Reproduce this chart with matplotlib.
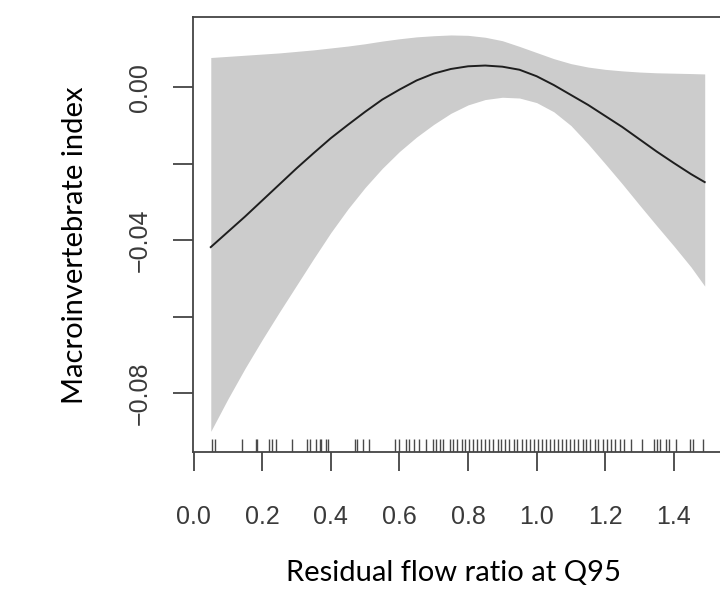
import matplotlib
matplotlib.use("Agg")
import matplotlib.pyplot as plt

# smooth term: fitted value and confidence band along residual flow ratio
flow_ratio = [0.05, 0.10, 0.15, 0.20, 0.25, 0.30, 0.35, 0.40, 0.45, 0.50,
              0.55, 0.60, 0.65, 0.70, 0.75, 0.80, 0.85, 0.90, 0.95, 1.00,
              1.05, 1.10, 1.15, 1.20, 1.25, 1.30, 1.35, 1.40, 1.45, 1.49]
fit = [-0.0418, -0.0378, -0.0338, -0.0296, -0.0254, -0.0212, -0.0172, -0.0133,
       -0.0098, -0.0064, -0.0032, -0.0006, 0.0018, 0.0036, 0.0048, 0.0055,
       0.0057, 0.0054, 0.0046, 0.0029, 0.0006, -0.0020, -0.0046, -0.0075,
       -0.0104, -0.0136, -0.0168, -0.0198, -0.0227, -0.0248]
upper = [0.0078, 0.0081, 0.0084, 0.0087, 0.0090, 0.0094, 0.0098, 0.0103,
         0.0108, 0.0114, 0.0121, 0.0127, 0.0132, 0.0135, 0.0137, 0.0136,
         0.0131, 0.0122, 0.0107, 0.0091, 0.0075, 0.0062, 0.0053, 0.0047,
         0.0043, 0.0040, 0.0038, 0.0037, 0.0036, 0.0035]
lower = [-0.0900, -0.0815, -0.0735, -0.0660, -0.0588, -0.0518, -0.0448, -0.0380,
         -0.0318, -0.0262, -0.0212, -0.0168, -0.0130, -0.0097, -0.0068, -0.0046,
         -0.0032, -0.0026, -0.0028, -0.0040, -0.0064, -0.0100, -0.0148, -0.0200,
         -0.0253, -0.0308, -0.0362, -0.0415, -0.0470, -0.0520]

# observed sites (rug)
sites = [0.054, 0.061, 0.142, 0.181, 0.186, 0.221, 0.229, 0.240, 0.288, 0.330,
         0.338, 0.358, 0.367, 0.372, 0.386, 0.393, 0.469, 0.477, 0.495, 0.512,
         0.588, 0.598, 0.618, 0.628, 0.643, 0.658, 0.678, 0.698, 0.708, 0.718,
         0.728, 0.748, 0.757, 0.769, 0.781, 0.790, 0.802, 0.815, 0.826, 0.838,
         0.850, 0.861, 0.873, 0.886, 0.897, 0.909, 0.920, 0.933, 0.944, 0.957,
         0.968, 0.980, 0.991, 1.003, 1.016, 1.027, 1.039, 1.050, 1.063, 1.074,
         1.086, 1.098, 1.110, 1.121, 1.134, 1.145, 1.157, 1.169, 1.180, 1.193,
         1.205, 1.217, 1.229, 1.242, 1.255, 1.275, 1.306, 1.341, 1.351, 1.361,
         1.376, 1.386, 1.406, 1.446, 1.456, 1.486]

x_ticks = [0.0, 0.2, 0.4, 0.6, 0.8, 1.0, 1.2, 1.4]
x_ticklabels = ["0.0", "0.2", "0.4", "0.6", "0.8", "1.0", "1.2", "1.4"]
y_ticks = [0.00, -0.02, -0.04, -0.06, -0.08]
y_ticklabels = ["0.00", "", "\u22120.04", "", "\u22120.08"]

fig = plt.figure(figsize=(7.2, 5.92), dpi=100)
ax = fig.add_axes([0.2675, 0.2365, 0.7389, 0.7348])

ax.fill_between(flow_ratio, lower, upper, color="#cccccc", lw=0)
ax.plot(flow_ratio, fit, color="#1e1e1e", lw=1.4)
ax.vlines(sites, 0, 0.03, transform=ax.get_xaxis_transform(),
          color="#4a4a4a", lw=1.0)

ax.set_xlim(-0.003, 1.548)
ax.set_ylim(-0.0954, 0.0184)

edge = "#444444"
for s in ax.spines.values():
    s.set_color(edge)
    s.set_linewidth(1.3)

ax.set_xticks(x_ticks)
ax.set_xticklabels(x_ticklabels, family="Liberation Sans", fontsize=18, color="#3a3a3a")
ax.set_yticks(y_ticks)
ax.set_yticklabels(y_ticklabels, family="Liberation Sans", fontsize=18, color="#3a3a3a",
                   rotation=90, va="center")
ax.tick_params(axis="x", length=13.5, width=1.3, color=edge, pad=25)
ax.tick_params(axis="y", length=14.5, width=1.3, color=edge, pad=15)

fig.text(75 / 720, 1 - 245 / 592, "Macroinvertebrate index", rotation=90,
         ha="center", va="center", family="Lato", fontsize=21, color="black")
fig.text(453 / 720, 1 - 573 / 592, "Residual flow ratio at Q95",
         ha="center", va="center", family="Lato", fontsize=21, color="black")

fig.savefig("out.png", dpi=100)
